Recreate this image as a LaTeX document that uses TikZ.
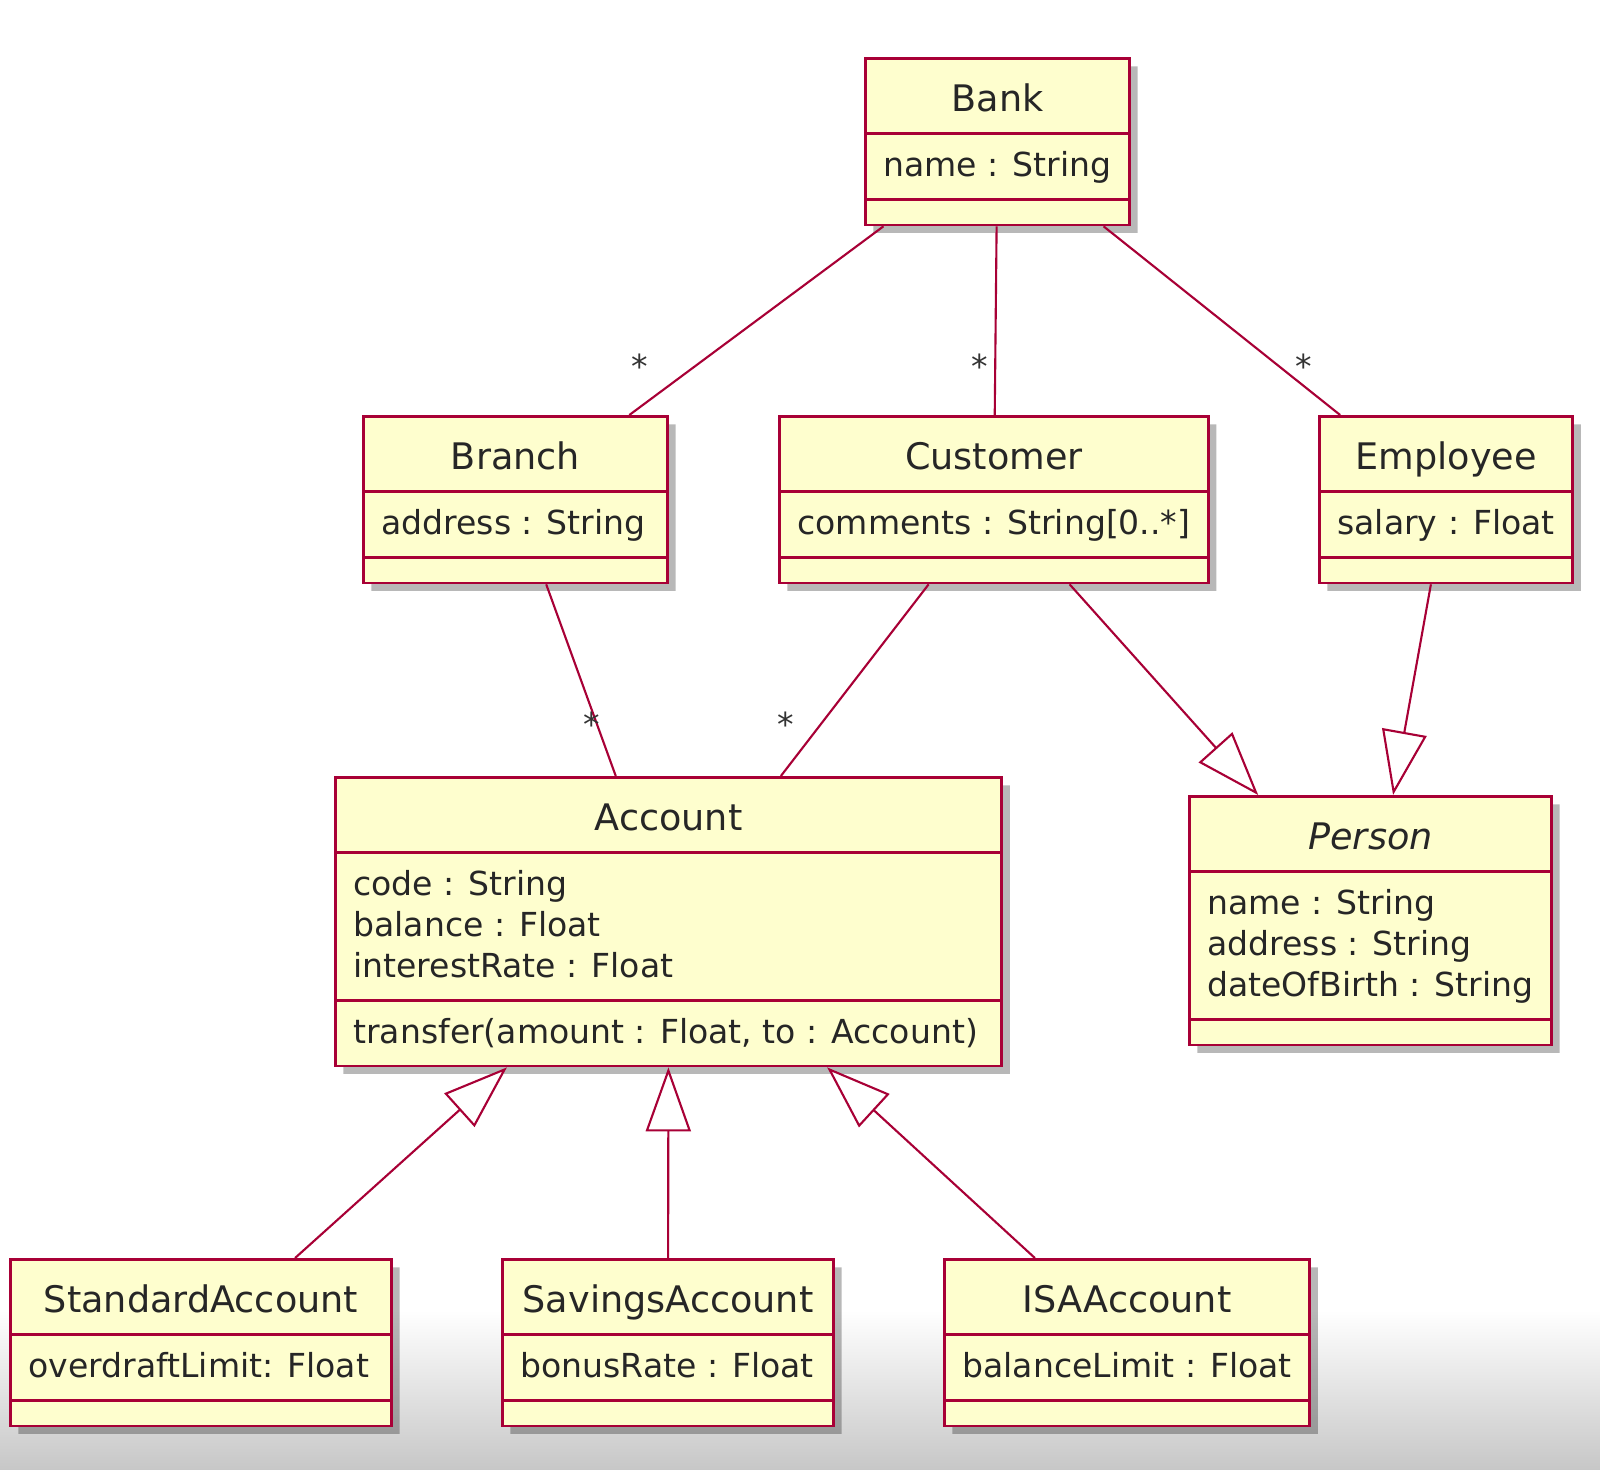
\documentclass[tikz,border=0pt]{standalone}
\usepackage{fontspec}
\setmainfont{DejaVu Sans}
\usetikzlibrary{shapes.multipart,shadows,arrows.meta}
\definecolor{umlborder}{HTML}{A80036}
\definecolor{umlfill}{HTML}{FEFECE}
\newcommand{\umlhead}[1]{\rule[-0.20cm]{0pt}{0.72cm}{\fontsize{10.4}{12}\selectfont #1}}
\newcommand{\umltop}{\rule{0pt}{0.42cm}}
\newcommand{\umlbot}{\rule[-0.21cm]{0pt}{0pt}}
\newcommand{\umlempty}{\rule{0pt}{0.23cm}}

\begin{document}
\begin{tikzpicture}[x=0.01cm,y=-0.01cm,
    umlclass/.style={rectangle split,rectangle split parts=3,rectangle split part align={center,left,left},
      draw=umlborder,fill=umlfill,line width=0.8pt,inner xsep=0.18cm,inner ysep=0pt,anchor=north west,
      align=left,font=\fontsize{9.4}{11.66}\selectfont,text=black!85,
      drop shadow={shadow xshift=0.08cm,shadow yshift=-0.08cm,fill=black,opacity=0.28}},
    assoc/.style={draw=umlborder,line width=0.6pt},
    gen/.style={assoc,-{Triangle[open,fill=white,length=0.64cm,width=0.45cm]}},
    mult/.style={font=\fontsize{9.4}{11.66}\selectfont,text=black!80,inner sep=0pt}]
  \useasboundingbox (0,0) rectangle (1600,1470);
  \fill[white] (0,0) rectangle (1600,1470);
  \shade[top color=white,bottom color=black!22] (0,1310) rectangle (1600,1470);

  \node[umlclass,minimum width=2.61cm] (bank) at (864,57) {\umlhead{Bank}\nodepart{two}\umltop name : String\umlbot\nodepart{three}\umlempty};
  \node[umlclass,minimum width=3.04cm] (branch) at (362,415) {\umlhead{Branch}\nodepart{two}\umltop address : String\umlbot\nodepart{three}\umlempty};
  \node[umlclass,minimum width=4.28cm] (customer) at (778,415) {\umlhead{Customer}\nodepart{two}\umltop comments : String[0..*]\umlbot\nodepart{three}\umlempty};
  \node[umlclass,minimum width=2.50cm] (employee) at (1318,415) {\umlhead{Employee}\nodepart{two}\umltop salary : Float\umlbot\nodepart{three}\umlempty};
  \node[umlclass,minimum width=6.66cm] (account) at (334,776) {\umlhead{Account}\nodepart{two}\umltop code : String\\balance : Float\\interestRate : Float\umlbot\nodepart{three}\umltop transfer(amount : Float, to : Account)\umlbot};
  \node[umlclass,minimum width=3.62cm] (person) at (1188,795) {\umlhead{\itshape Person}\nodepart{two}\umltop name : String\\address : String\\dateOfBirth : String\umlbot\nodepart{three}\umlempty};
  \node[umlclass,minimum width=3.81cm] (standard) at (9,1258) {\umlhead{StandardAccount}\nodepart{two}\umltop overdraftLimit: Float\umlbot\nodepart{three}\umlempty};
  \node[umlclass,minimum width=3.31cm] (savings) at (501,1258) {\umlhead{SavingsAccount}\nodepart{two}\umltop bonusRate : Float\umlbot\nodepart{three}\umlempty};
  \node[umlclass,minimum width=3.61cm] (isa) at (943,1258) {\umlhead{ISAAccount}\nodepart{two}\umltop balanceLimit : Float\umlbot\nodepart{three}\umlempty};

  \draw[assoc] (bank) -- (branch);
  \draw[assoc] (bank) -- (customer);
  \draw[assoc] (bank) -- (employee);
  \draw[assoc] (branch) -- (account);
  \draw[assoc] (customer) -- (account);
  \draw[gen] (customer) -- (person);
  \draw[gen] (employee) -- (person);
  \draw[gen] (standard) -- (account);
  \draw[gen] (savings) -- (account);
  \draw[gen] (isa) -- (account);

  \node[mult] (m1) at (640,366) {*};
  \node[mult] (m2) at (980,366) {*};
  \node[mult] (m3) at (1304,366) {*};
  \node[mult] (m4) at (592,724) {*};
  \node[mult] (m5) at (786,724) {*};
\end{tikzpicture}
\end{document}
